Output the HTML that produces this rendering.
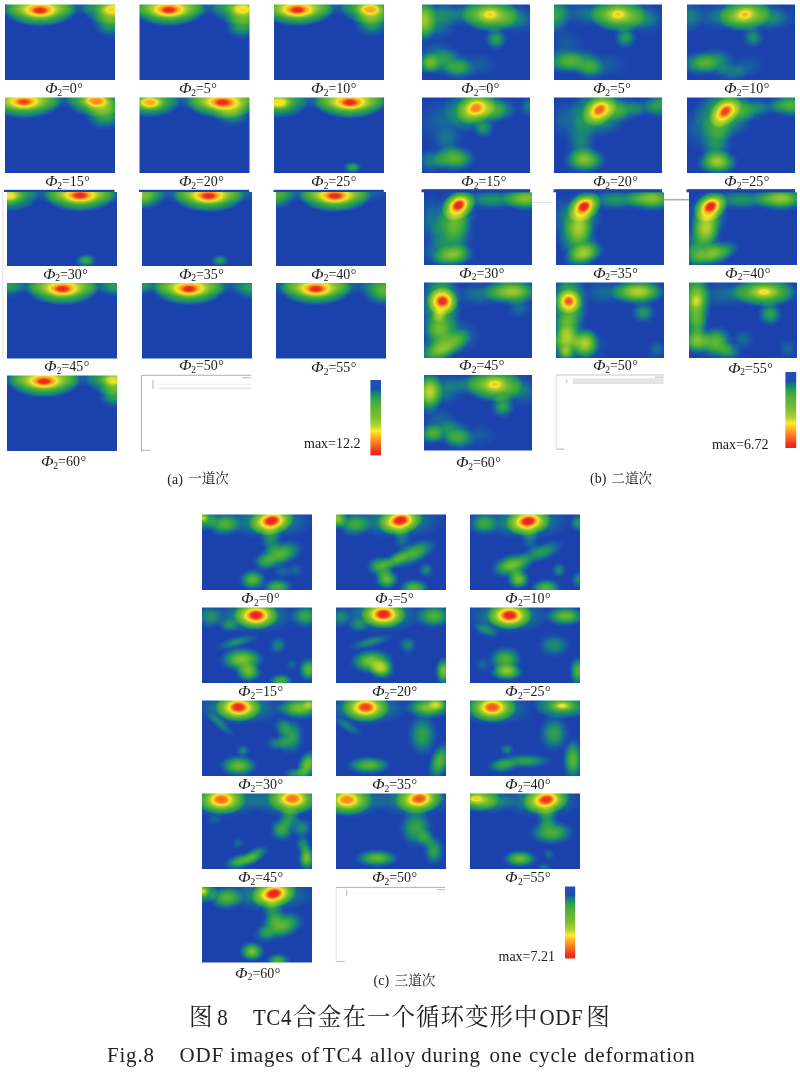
<!DOCTYPE html>
<html><head><meta charset="utf-8"><title>Fig.8 ODF images</title>
<style>
html,body{margin:0;padding:0;background:#fff;}
body{width:800px;height:1076px;position:relative;overflow:hidden;font-family:"Liberation Serif","Noto Serif CJK SC",serif;color:#1a1a1a;}
svg{position:absolute;left:0;top:0;}
.t{position:absolute;white-space:nowrap;line-height:1;}
.lab{font-size:14px;}
.dg{margin-left:0.5px;}
.capc{font-size:13.6px;font-family:"Noto Serif CJK SC",serif;color:#222;}
.lab{color:#1c1c1c}.lab i{font-style:italic;display:inline-block;transform:scaleX(1.18);transform-origin:0 50%;margin-right:2px;}
.lab sub{font-size:9.5px;vertical-align:baseline;position:relative;top:2.5px;}
.cap{font-size:14px;color:#222;}
.mx{font-size:14px;}
.cn{font-size:23.5px;font-family:"Noto Serif CJK SC","Liberation Serif",serif;color:#222;}
.en{font-size:21px;color:#222;letter-spacing:0.8px;}
.en2{font-size:21px;color:#222;transform:scaleY(1.08);transform-origin:0 83.75%;}
</style></head><body>

<svg width="800" height="1076" viewBox="0 0 800 1076">
<defs><radialGradient id="gp"><stop offset="0" stop-color="#fff" stop-opacity="1"/><stop offset="0.06" stop-color="#fff" stop-opacity="0.98"/><stop offset="0.12" stop-color="#fff" stop-opacity="0.93"/><stop offset="0.16" stop-color="#fff" stop-opacity="0.87"/><stop offset="0.2" stop-color="#fff" stop-opacity="0.79"/><stop offset="0.24" stop-color="#fff" stop-opacity="0.72"/><stop offset="0.3" stop-color="#fff" stop-opacity="0.66"/><stop offset="0.4" stop-color="#fff" stop-opacity="0.54"/><stop offset="0.5" stop-color="#fff" stop-opacity="0.44"/><stop offset="0.6" stop-color="#fff" stop-opacity="0.36"/><stop offset="0.7" stop-color="#fff" stop-opacity="0.3"/><stop offset="0.8" stop-color="#fff" stop-opacity="0.235"/><stop offset="0.9" stop-color="#fff" stop-opacity="0.13"/><stop offset="1" stop-color="#fff" stop-opacity="0"/></radialGradient><radialGradient id="gh"><stop offset="0" stop-color="#fff" stop-opacity="1"/><stop offset="0.1" stop-color="#fff" stop-opacity="0.99"/><stop offset="0.2" stop-color="#fff" stop-opacity="0.93"/><stop offset="0.26" stop-color="#fff" stop-opacity="0.84"/><stop offset="0.32" stop-color="#fff" stop-opacity="0.72"/><stop offset="0.38" stop-color="#fff" stop-opacity="0.64"/><stop offset="0.45" stop-color="#fff" stop-opacity="0.54"/><stop offset="0.55" stop-color="#fff" stop-opacity="0.43"/><stop offset="0.65" stop-color="#fff" stop-opacity="0.34"/><stop offset="0.75" stop-color="#fff" stop-opacity="0.27"/><stop offset="0.85" stop-color="#fff" stop-opacity="0.2"/><stop offset="0.93" stop-color="#fff" stop-opacity="0.1"/><stop offset="1" stop-color="#fff" stop-opacity="0"/></radialGradient><radialGradient id="gf"><stop offset="0" stop-color="#fff" stop-opacity="1"/><stop offset="0.1" stop-color="#fff" stop-opacity="0.985"/><stop offset="0.2" stop-color="#fff" stop-opacity="0.94"/><stop offset="0.3" stop-color="#fff" stop-opacity="0.87"/><stop offset="0.4" stop-color="#fff" stop-opacity="0.77"/><stop offset="0.5" stop-color="#fff" stop-opacity="0.65"/><stop offset="0.6" stop-color="#fff" stop-opacity="0.52"/><stop offset="0.7" stop-color="#fff" stop-opacity="0.39"/><stop offset="0.8" stop-color="#fff" stop-opacity="0.26"/><stop offset="0.9" stop-color="#fff" stop-opacity="0.13"/><stop offset="1" stop-color="#fff" stop-opacity="0"/></radialGradient>
<filter id="cm" color-interpolation-filters="sRGB" x="0" y="0" width="1" height="1" filterUnits="objectBoundingBox"><feGaussianBlur stdDeviation="0.4"/><feComponentTransfer><feFuncR type="table" tableValues="0.106 0.105 0.104 0.103 0.102 0.100 0.098 0.096 0.094 0.106 0.118 0.129 0.141 0.175 0.208 0.241 0.275 0.324 0.373 0.422 0.471 0.529 0.588 0.647 0.706 0.786 0.865 0.945 0.971 0.983 0.995 0.996 0.989 0.982 0.975 0.967 0.957 0.947 0.936 0.923 0.910"/><feFuncG type="table" tableValues="0.259 0.276 0.294 0.312 0.329 0.363 0.396 0.429 0.463 0.496 0.529 0.563 0.596 0.616 0.635 0.655 0.675 0.692 0.710 0.727 0.745 0.765 0.784 0.804 0.824 0.855 0.887 0.919 0.871 0.802 0.733 0.666 0.599 0.533 0.466 0.395 0.322 0.248 0.195 0.172 0.149"/><feFuncB type="table" tableValues="0.675 0.671 0.667 0.663 0.659 0.631 0.604 0.576 0.549 0.500 0.451 0.402 0.353 0.324 0.294 0.265 0.235 0.225 0.216 0.206 0.196 0.192 0.188 0.184 0.180 0.173 0.166 0.158 0.149 0.139 0.129 0.125 0.125 0.125 0.125 0.124 0.122 0.119 0.118 0.118 0.118"/></feComponentTransfer></filter>
<linearGradient id="cb" x1="0" y1="0" x2="0" y2="1"><stop offset="0" stop-color="rgb(34,80,186)"/><stop offset="0.12" stop-color="rgb(28,78,176)"/><stop offset="0.17" stop-color="rgb(16,128,120)"/><stop offset="0.24" stop-color="rgb(40,160,80)"/><stop offset="0.33" stop-color="rgb(80,176,56)"/><stop offset="0.5" stop-color="rgb(128,192,48)"/><stop offset="0.6" stop-color="rgb(176,208,48)"/><stop offset="0.675" stop-color="rgb(248,240,40)"/><stop offset="0.75" stop-color="rgb(255,176,32)"/><stop offset="0.85" stop-color="rgb(248,112,32)"/><stop offset="0.95" stop-color="rgb(240,48,32)"/><stop offset="1" stop-color="rgb(230,38,30)"/></linearGradient>
</defs>
<svg x="5" y="4.5" width="110" height="75.5" viewBox="0 0 110 75.5" overflow="hidden">
<g filter="url(#cm)"><rect x="-2" y="-2" width="114" height="79.5" fill="#000"/>
<ellipse cx="35" cy="6" rx="36.8" ry="16.6" fill="url(#gp)" opacity="1"/>
<ellipse cx="35" cy="2" rx="68.2" ry="11.4" fill="url(#gf)" opacity="0.26"/>
<ellipse cx="108" cy="4.5" rx="32.2" ry="16.1" fill="url(#gh)" opacity="0.7"/>
<ellipse cx="105" cy="18" rx="19.5" ry="16.2" fill="url(#gf)" opacity="0.34"/>
</g></svg>
<svg x="139.5" y="4.5" width="110" height="75.5" viewBox="0 0 110 75.5" overflow="hidden">
<g filter="url(#cm)"><rect x="-2" y="-2" width="114" height="79.5" fill="#000"/>
<ellipse cx="29.5" cy="5.5" rx="36.8" ry="16.6" fill="url(#gp)" opacity="1"/>
<ellipse cx="29.5" cy="2" rx="68.2" ry="11.4" fill="url(#gf)" opacity="0.26"/>
<ellipse cx="103" cy="4.5" rx="32.2" ry="16.1" fill="url(#gh)" opacity="0.7"/>
<ellipse cx="103" cy="20" rx="19.5" ry="16.2" fill="url(#gf)" opacity="0.36"/>
</g></svg>
<svg x="274" y="4.5" width="110" height="75.5" viewBox="0 0 110 75.5" overflow="hidden">
<g filter="url(#cm)"><rect x="-2" y="-2" width="114" height="79.5" fill="#000"/>
<ellipse cx="23.5" cy="5.5" rx="36.8" ry="16.6" fill="url(#gp)" opacity="1"/>
<ellipse cx="23.5" cy="2" rx="68.2" ry="11.4" fill="url(#gf)" opacity="0.26"/>
<ellipse cx="96" cy="4.5" rx="30.6" ry="15.3" fill="url(#gh)" opacity="0.76"/>
<ellipse cx="98" cy="17" rx="19.5" ry="16.2" fill="url(#gf)" opacity="0.36"/>
</g></svg>
<svg x="5" y="97.5" width="110" height="75.5" viewBox="0 0 110 75.5" overflow="hidden">
<g filter="url(#cm)"><rect x="-2" y="-2" width="114" height="79.5" fill="#000"/>
<ellipse cx="19" cy="4.5" rx="37.8" ry="17" fill="url(#gp)" opacity="0.92"/>
<ellipse cx="19" cy="2" rx="68.2" ry="11.4" fill="url(#gf)" opacity="0.26"/>
<ellipse cx="91" cy="3.5" rx="30.6" ry="15.9" fill="url(#gh)" opacity="0.82"/>
<ellipse cx="100" cy="17" rx="21.1" ry="16.2" fill="url(#gf)" opacity="0.38"/>
</g></svg>
<svg x="139.5" y="97.5" width="110" height="75.5" viewBox="0 0 110 75.5" overflow="hidden">
<g filter="url(#cm)"><rect x="-2" y="-2" width="114" height="79.5" fill="#000"/>
<ellipse cx="10.5" cy="5" rx="30.1" ry="15.1" fill="url(#gh)" opacity="0.78"/>
<ellipse cx="83" cy="5" rx="36.8" ry="16.6" fill="url(#gp)" opacity="1"/>
<ellipse cx="83" cy="2" rx="68.2" ry="11.4" fill="url(#gf)" opacity="0.26"/>
<ellipse cx="93" cy="16" rx="19.5" ry="14.6" fill="url(#gf)" opacity="0.3"/>
</g></svg>
<svg x="274" y="97.5" width="110" height="75.5" viewBox="0 0 110 75.5" overflow="hidden">
<g filter="url(#cm)"><rect x="-2" y="-2" width="114" height="79.5" fill="#000"/>
<ellipse cx="5" cy="5" rx="29.5" ry="16.1" fill="url(#gh)" opacity="0.7"/>
<ellipse cx="76" cy="5" rx="36.8" ry="16.6" fill="url(#gp)" opacity="1"/>
<ellipse cx="76" cy="2" rx="68.2" ry="11.4" fill="url(#gf)" opacity="0.26"/>
<ellipse cx="78.5" cy="70" rx="9.8" ry="6.5" fill="url(#gf)" opacity="0.36"/>
</g></svg>
<svg x="7" y="190.5" width="110" height="75.5" viewBox="0 0 110 75.5" overflow="hidden">
<g filter="url(#cm)"><rect x="-2" y="-2" width="114" height="79.5" fill="#000"/>
<ellipse cx="2" cy="5" rx="30.1" ry="16.4" fill="url(#gh)" opacity="0.68"/>
<ellipse cx="73" cy="5" rx="36.8" ry="16.6" fill="url(#gp)" opacity="1"/>
<ellipse cx="73" cy="2" rx="68.2" ry="11.4" fill="url(#gf)" opacity="0.26"/>
<ellipse cx="79" cy="70" rx="11.4" ry="7.3" fill="url(#gf)" opacity="0.38"/>
</g></svg>
<svg x="142" y="190.5" width="110" height="75.5" viewBox="0 0 110 75.5" overflow="hidden">
<g filter="url(#cm)"><rect x="-2" y="-2" width="114" height="79.5" fill="#000"/>
<ellipse cx="0" cy="5" rx="25.2" ry="14.8" fill="url(#gf)" opacity="0.52"/>
<ellipse cx="66.7" cy="5.5" rx="36.8" ry="16.6" fill="url(#gp)" opacity="1"/>
<ellipse cx="66.7" cy="2" rx="68.2" ry="11.4" fill="url(#gf)" opacity="0.26"/>
<ellipse cx="78" cy="70" rx="9.8" ry="6.5" fill="url(#gf)" opacity="0.32"/>
</g></svg>
<svg x="276" y="190.5" width="110" height="75.5" viewBox="0 0 110 75.5" overflow="hidden">
<g filter="url(#cm)"><rect x="-2" y="-2" width="114" height="79.5" fill="#000"/>
<ellipse cx="0" cy="5" rx="21.1" ry="14.6" fill="url(#gf)" opacity="0.4"/>
<ellipse cx="59" cy="5.5" rx="36.8" ry="16.6" fill="url(#gp)" opacity="1"/>
<ellipse cx="59" cy="2" rx="68.2" ry="11.4" fill="url(#gf)" opacity="0.26"/>
</g></svg>
<svg x="7" y="283" width="110" height="75.5" viewBox="0 0 110 75.5" overflow="hidden">
<g filter="url(#cm)"><rect x="-2" y="-2" width="114" height="79.5" fill="#000"/>
<ellipse cx="55.5" cy="6" rx="36.8" ry="16.6" fill="url(#gp)" opacity="1"/>
<ellipse cx="55.5" cy="2" rx="68.2" ry="11.4" fill="url(#gf)" opacity="0.26"/>
<ellipse cx="0" cy="4" rx="19.5" ry="11.4" fill="url(#gf)" opacity="0.28"/>
<ellipse cx="110" cy="4" rx="19.5" ry="11.4" fill="url(#gf)" opacity="0.28"/>
</g></svg>
<svg x="142" y="283" width="110" height="75.5" viewBox="0 0 110 75.5" overflow="hidden">
<g filter="url(#cm)"><rect x="-2" y="-2" width="114" height="79.5" fill="#000"/>
<ellipse cx="47" cy="6" rx="36.8" ry="16.6" fill="url(#gp)" opacity="1"/>
<ellipse cx="47" cy="2" rx="68.2" ry="11.4" fill="url(#gf)" opacity="0.26"/>
<ellipse cx="110" cy="5" rx="21.1" ry="13" fill="url(#gf)" opacity="0.32"/>
<ellipse cx="0" cy="3" rx="13" ry="9.8" fill="url(#gf)" opacity="0.22"/>
</g></svg>
<svg x="276" y="283" width="110" height="75.5" viewBox="0 0 110 75.5" overflow="hidden">
<g filter="url(#cm)"><rect x="-2" y="-2" width="114" height="79.5" fill="#000"/>
<ellipse cx="40" cy="6" rx="36.8" ry="16.6" fill="url(#gp)" opacity="1"/>
<ellipse cx="40" cy="2" rx="68.2" ry="11.4" fill="url(#gf)" opacity="0.26"/>
<ellipse cx="110" cy="7" rx="26.9" ry="17.4" fill="url(#gf)" opacity="0.46"/>
</g></svg>
<svg x="7" y="375.5" width="110" height="75.5" viewBox="0 0 110 75.5" overflow="hidden">
<g filter="url(#cm)"><rect x="-2" y="-2" width="114" height="79.5" fill="#000"/>
<ellipse cx="37" cy="6" rx="36.8" ry="16.6" fill="url(#gp)" opacity="1"/>
<ellipse cx="37" cy="2" rx="68.2" ry="11.4" fill="url(#gf)" opacity="0.26"/>
<ellipse cx="106" cy="4.5" rx="27.9" ry="15.3" fill="url(#gh)" opacity="0.66"/>
<ellipse cx="107" cy="19" rx="16.2" ry="14.6" fill="url(#gf)" opacity="0.36"/>
</g></svg>
<svg x="422" y="4.5" width="108" height="75.5" viewBox="0 0 108 75.5" overflow="hidden">
<g filter="url(#cm)"><rect x="-2" y="-2" width="112" height="79.5" fill="#000"/>
<ellipse cx="68" cy="10" rx="28.7" ry="18.3" fill="url(#gp)" opacity="0.64"/>
<ellipse cx="71" cy="11" rx="40.6" ry="17.1" fill="url(#gf)" opacity="0.26"/>
<ellipse cx="1" cy="15" rx="14.2" ry="25.3" fill="url(#gf)" opacity="0.46"/>
<ellipse cx="12" cy="16" rx="26" ry="21.1" fill="url(#gf)" opacity="0.25"/>
<ellipse cx="35" cy="9" rx="29.2" ry="13" fill="url(#gf)" opacity="0.17"/>
<ellipse cx="74" cy="34.5" rx="12.2" ry="12.2" fill="url(#gf)" opacity="0.33"/>
<ellipse cx="6.5" cy="59" rx="13" ry="11.4" fill="url(#gf)" opacity="0.4"/>
<ellipse cx="24" cy="58" rx="24.4" ry="14.6" fill="url(#gf)" opacity="0.3"/>
<ellipse cx="38" cy="65" rx="16.2" ry="11.4" fill="url(#gf)" opacity="0.27"/>
<ellipse cx="15" cy="48" rx="22.8" ry="13" fill="url(#gf)" opacity="0.17"/>
<ellipse cx="95" cy="16" rx="22.8" ry="14.6" fill="url(#gf)" opacity="0.17"/>
<ellipse cx="55" cy="60" rx="22.8" ry="13" fill="url(#gf)" opacity="0.14"/>
</g></svg>
<svg x="554" y="4.5" width="108" height="75.5" viewBox="0 0 108 75.5" overflow="hidden">
<g filter="url(#cm)"><rect x="-2" y="-2" width="112" height="79.5" fill="#000"/>
<ellipse cx="64" cy="10" rx="28.3" ry="18.1" fill="url(#gp)" opacity="0.65"/>
<ellipse cx="67" cy="11" rx="40.6" ry="17.1" fill="url(#gf)" opacity="0.26"/>
<ellipse cx="0.5" cy="10" rx="17.9" ry="21.1" fill="url(#gf)" opacity="0.36"/>
<ellipse cx="30" cy="9" rx="27.6" ry="13" fill="url(#gf)" opacity="0.17"/>
<ellipse cx="71.5" cy="33" rx="12.2" ry="12.2" fill="url(#gf)" opacity="0.32"/>
<ellipse cx="10" cy="57" rx="21.1" ry="13" fill="url(#gf)" opacity="0.36"/>
<ellipse cx="28" cy="57" rx="21.1" ry="14.6" fill="url(#gf)" opacity="0.3"/>
<ellipse cx="37" cy="65" rx="16.2" ry="11.4" fill="url(#gf)" opacity="0.25"/>
<ellipse cx="92" cy="16" rx="22.8" ry="14.6" fill="url(#gf)" opacity="0.17"/>
<ellipse cx="52" cy="60" rx="22.8" ry="13" fill="url(#gf)" opacity="0.14"/>
<ellipse cx="12" cy="40" rx="19.5" ry="16.2" fill="url(#gf)" opacity="0.13"/>
</g></svg>
<svg x="687" y="4.5" width="108" height="75.5" viewBox="0 0 108 75.5" overflow="hidden">
<g filter="url(#cm)"><rect x="-2" y="-2" width="112" height="79.5" fill="#000"/>
<ellipse cx="58" cy="10" rx="26.9" ry="17.2" fill="url(#gp)" opacity="0.69" transform="rotate(-10 58 10)"/>
<ellipse cx="61" cy="11" rx="40.6" ry="17.1" fill="url(#gf)" opacity="0.26"/>
<ellipse cx="1" cy="12" rx="16.2" ry="17.9" fill="url(#gf)" opacity="0.22"/>
<ellipse cx="28" cy="12" rx="27.6" ry="14.6" fill="url(#gf)" opacity="0.15"/>
<ellipse cx="66" cy="33" rx="11.4" ry="11.4" fill="url(#gf)" opacity="0.28"/>
<ellipse cx="12" cy="59" rx="19.5" ry="13" fill="url(#gf)" opacity="0.34"/>
<ellipse cx="28.5" cy="57" rx="21.1" ry="14.6" fill="url(#gf)" opacity="0.31"/>
<ellipse cx="45" cy="68" rx="17.9" ry="9.8" fill="url(#gf)" opacity="0.2"/>
<ellipse cx="88" cy="14" rx="22.8" ry="13" fill="url(#gf)" opacity="0.17"/>
<ellipse cx="60" cy="62" rx="19.5" ry="11.4" fill="url(#gf)" opacity="0.14"/>
</g></svg>
<svg x="422" y="97.5" width="108" height="75.5" viewBox="0 0 108 75.5" overflow="hidden">
<g filter="url(#cm)"><rect x="-2" y="-2" width="112" height="79.5" fill="#000"/>
<ellipse cx="53.7" cy="10.5" rx="21.1" ry="15.5" fill="url(#gh)" opacity="0.74" transform="rotate(-25 53.7 10.5)"/>
<ellipse cx="75" cy="12" rx="22.8" ry="13" fill="url(#gf)" opacity="0.32"/>
<ellipse cx="52" cy="12" rx="32.5" ry="24.4" fill="url(#gf)" opacity="0.36"/>
<ellipse cx="32.7" cy="61" rx="22.4" ry="13.6" fill="url(#gf)" opacity="0.45"/>
<ellipse cx="10" cy="63" rx="17.9" ry="13" fill="url(#gf)" opacity="0.24"/>
<ellipse cx="62" cy="32" rx="11.4" ry="9.8" fill="url(#gf)" opacity="0.25"/>
<ellipse cx="22" cy="24" rx="29.2" ry="24.4" fill="url(#gf)" opacity="0.16"/>
<ellipse cx="107" cy="9" rx="11.4" ry="11.4" fill="url(#gf)" opacity="0.22"/>
<ellipse cx="25" cy="45" rx="16.2" ry="16.2" fill="url(#gf)" opacity="0.16"/>
</g></svg>
<svg x="554" y="97.5" width="108" height="75.5" viewBox="0 0 108 75.5" overflow="hidden">
<g filter="url(#cm)"><rect x="-2" y="-2" width="112" height="79.5" fill="#000"/>
<ellipse cx="45.5" cy="12.3" rx="20.2" ry="14.1" fill="url(#gh)" opacity="0.8" transform="rotate(-40 45.5 12.3)"/>
<ellipse cx="44" cy="15" rx="30.9" ry="26" fill="url(#gf)" opacity="0.4"/>
<ellipse cx="68" cy="12" rx="22.8" ry="13" fill="url(#gf)" opacity="0.3"/>
<ellipse cx="31" cy="62.7" rx="22.7" ry="13.6" fill="url(#gf)" opacity="0.5"/>
<ellipse cx="105.6" cy="7.5" rx="16.2" ry="14.6" fill="url(#gf)" opacity="0.34"/>
<ellipse cx="27" cy="42" rx="16.2" ry="24.4" fill="url(#gf)" opacity="0.25"/>
<ellipse cx="12" cy="22" rx="19.5" ry="21.1" fill="url(#gf)" opacity="0.16"/>
<ellipse cx="88" cy="10" rx="16.2" ry="9.8" fill="url(#gf)" opacity="0.18"/>
</g></svg>
<svg x="687" y="97.5" width="108" height="75.5" viewBox="0 0 108 75.5" overflow="hidden">
<g filter="url(#cm)"><rect x="-2" y="-2" width="112" height="79.5" fill="#000"/>
<ellipse cx="38.3" cy="14" rx="19.3" ry="12.8" fill="url(#gh)" opacity="0.88" transform="rotate(-45 38.3 14)"/>
<ellipse cx="37" cy="16" rx="30.9" ry="27.6" fill="url(#gf)" opacity="0.42"/>
<ellipse cx="60" cy="12" rx="22.8" ry="13" fill="url(#gf)" opacity="0.28"/>
<ellipse cx="30.5" cy="65" rx="22" ry="13.2" fill="url(#gf)" opacity="0.53"/>
<ellipse cx="28.6" cy="42" rx="17.9" ry="27.6" fill="url(#gf)" opacity="0.32"/>
<ellipse cx="104" cy="7.5" rx="22.8" ry="13" fill="url(#gf)" opacity="0.42"/>
<ellipse cx="80" cy="9" rx="19.5" ry="9.8" fill="url(#gf)" opacity="0.15"/>
<ellipse cx="10" cy="30" rx="14.6" ry="22.8" fill="url(#gf)" opacity="0.15"/>
</g></svg>
<svg x="424" y="189.5" width="108" height="75.5" viewBox="0 0 108 75.5" overflow="hidden">
<g filter="url(#cm)"><rect x="-2" y="-2" width="112" height="79.5" fill="#000"/>
<ellipse cx="34.6" cy="15.75" rx="18.9" ry="14" fill="url(#gh)" opacity="1" transform="rotate(-35 34.6 15.75)"/>
<ellipse cx="32.6" cy="23.75" rx="21.1" ry="24.4" fill="url(#gf)" opacity="0.36"/>
<ellipse cx="28" cy="44" rx="22.8" ry="24.4" fill="url(#gf)" opacity="0.37"/>
<ellipse cx="29.7" cy="66" rx="22.7" ry="12.1" fill="url(#gf)" opacity="0.5" transform="rotate(-10 29.7 66)"/>
<ellipse cx="102.5" cy="9" rx="25.2" ry="13.3" fill="url(#gf)" opacity="0.52"/>
<ellipse cx="68" cy="10" rx="32.5" ry="11.4" fill="url(#gf)" opacity="0.29"/>
<ellipse cx="8" cy="30" rx="14.6" ry="26" fill="url(#gf)" opacity="0.2"/>
<ellipse cx="12" cy="62" rx="16.2" ry="16.2" fill="url(#gf)" opacity="0.2"/>
</g></svg>
<svg x="556" y="189.5" width="108" height="75.5" viewBox="0 0 108 75.5" overflow="hidden">
<g filter="url(#cm)"><rect x="-2" y="-2" width="112" height="79.5" fill="#000"/>
<ellipse cx="28" cy="17.2" rx="18.9" ry="14" fill="url(#gh)" opacity="1" transform="rotate(-35 28 17.2)"/>
<ellipse cx="26" cy="25.2" rx="21.1" ry="24.4" fill="url(#gf)" opacity="0.36"/>
<ellipse cx="21.5" cy="37" rx="16.2" ry="17.9" fill="url(#gf)" opacity="0.36"/>
<ellipse cx="22" cy="51" rx="21.1" ry="21.1" fill="url(#gf)" opacity="0.37"/>
<ellipse cx="28" cy="65" rx="22.7" ry="12.1" fill="url(#gf)" opacity="0.5" transform="rotate(-20 28 65)"/>
<ellipse cx="96" cy="9" rx="28.2" ry="13.3" fill="url(#gf)" opacity="0.52"/>
<ellipse cx="60" cy="10" rx="32.5" ry="11.4" fill="url(#gf)" opacity="0.29"/>
<ellipse cx="6" cy="30" rx="11.4" ry="26" fill="url(#gf)" opacity="0.18"/>
</g></svg>
<svg x="689" y="189.5" width="108" height="75.5" viewBox="0 0 108 75.5" overflow="hidden">
<g filter="url(#cm)"><rect x="-2" y="-2" width="112" height="79.5" fill="#000"/>
<ellipse cx="21.6" cy="17.2" rx="18.9" ry="14" fill="url(#gh)" opacity="1" transform="rotate(-35 21.6 17.2)"/>
<ellipse cx="19.6" cy="25.2" rx="21.1" ry="24.4" fill="url(#gf)" opacity="0.36"/>
<ellipse cx="16.7" cy="37" rx="16.2" ry="17.9" fill="url(#gf)" opacity="0.4"/>
<ellipse cx="14" cy="52" rx="19.5" ry="21.1" fill="url(#gf)" opacity="0.37"/>
<ellipse cx="26.5" cy="64.3" rx="26.6" ry="11.7" fill="url(#gf)" opacity="0.47" transform="rotate(-20 26.5 64.3)"/>
<ellipse cx="91.5" cy="9" rx="28.9" ry="13" fill="url(#gf)" opacity="0.55"/>
<ellipse cx="52" cy="10" rx="32.5" ry="11.4" fill="url(#gf)" opacity="0.29"/>
<ellipse cx="5" cy="66" rx="13" ry="13" fill="url(#gf)" opacity="0.3"/>
</g></svg>
<svg x="424" y="282.5" width="108" height="75.5" viewBox="0 0 108 75.5" overflow="hidden">
<g filter="url(#cm)"><rect x="-2" y="-2" width="112" height="79.5" fill="#000"/>
<ellipse cx="18.5" cy="18.75" rx="16.2" ry="14.3" fill="url(#gh)" opacity="0.95"/>
<ellipse cx="15" cy="33" rx="8.1" ry="8.1" fill="url(#gf)" opacity="0.3"/>
<ellipse cx="17" cy="22" rx="22.1" ry="39.6" fill="url(#gf)" opacity="0.46"/>
<ellipse cx="23" cy="64" rx="29.2" ry="12.2" fill="url(#gf)" opacity="0.38" transform="rotate(-30 23 64)"/>
<ellipse cx="10" cy="68" rx="21.1" ry="13" fill="url(#gf)" opacity="0.28"/>
<ellipse cx="28" cy="54" rx="29.2" ry="19.5" fill="url(#gf)" opacity="0.26"/>
<ellipse cx="87.5" cy="9" rx="30.1" ry="14.3" fill="url(#gf)" opacity="0.56"/>
<ellipse cx="55" cy="12" rx="26" ry="13" fill="url(#gf)" opacity="0.2"/>
<ellipse cx="95" cy="25.5" rx="13" ry="11.4" fill="url(#gf)" opacity="0.17"/>
<ellipse cx="12" cy="48" rx="16.2" ry="16.2" fill="url(#gf)" opacity="0.25"/>
</g></svg>
<svg x="556" y="282.5" width="108" height="75.5" viewBox="0 0 108 75.5" overflow="hidden">
<g filter="url(#cm)"><rect x="-2" y="-2" width="112" height="79.5" fill="#000"/>
<ellipse cx="12.75" cy="18.75" rx="14" ry="12.6" fill="url(#gh)" opacity="0.82"/>
<ellipse cx="13" cy="22" rx="20.1" ry="37.1" fill="url(#gf)" opacity="0.48"/>
<ellipse cx="9.5" cy="57" rx="15.8" ry="14.2" fill="url(#gf)" opacity="0.46"/>
<ellipse cx="29.7" cy="60.7" rx="14.2" ry="15.8" fill="url(#gf)" opacity="0.46"/>
<ellipse cx="9.5" cy="70.5" rx="9.8" ry="8.1" fill="url(#gf)" opacity="0.4"/>
<ellipse cx="20" cy="62" rx="32.5" ry="19.5" fill="url(#gf)" opacity="0.28"/>
<ellipse cx="82" cy="9.3" rx="29.2" ry="13.9" fill="url(#gf)" opacity="0.6"/>
<ellipse cx="87.5" cy="30" rx="13" ry="11.4" fill="url(#gf)" opacity="0.3"/>
<ellipse cx="101" cy="66.7" rx="9.8" ry="9.8" fill="url(#gf)" opacity="0.18"/>
<ellipse cx="48" cy="10" rx="26" ry="13" fill="url(#gf)" opacity="0.17"/>
<ellipse cx="10" cy="44" rx="14.6" ry="13" fill="url(#gf)" opacity="0.28"/>
</g></svg>
<svg x="689" y="282.5" width="108" height="75.5" viewBox="0 0 108 75.5" overflow="hidden">
<g filter="url(#cm)"><rect x="-2" y="-2" width="112" height="79.5" fill="#000"/>
<ellipse cx="7.2" cy="18.75" rx="15.8" ry="33" fill="url(#gf)" opacity="0.56"/>
<ellipse cx="7.2" cy="18.75" rx="6.5" ry="6.5" fill="url(#gf)" opacity="0.2"/>
<ellipse cx="75" cy="9.3" rx="32.1" ry="15.2" fill="url(#gp)" opacity="0.6"/>
<ellipse cx="76" cy="10" rx="40.6" ry="15.4" fill="url(#gf)" opacity="0.27"/>
<ellipse cx="81" cy="31.5" rx="13" ry="13" fill="url(#gf)" opacity="0.34"/>
<ellipse cx="6.75" cy="57.75" rx="15.8" ry="14.2" fill="url(#gf)" opacity="0.46"/>
<ellipse cx="29" cy="60" rx="16.2" ry="17.9" fill="url(#gf)" opacity="0.38"/>
<ellipse cx="40.5" cy="69" rx="13" ry="9.8" fill="url(#gf)" opacity="0.28"/>
<ellipse cx="54" cy="57" rx="13" ry="11.4" fill="url(#gf)" opacity="0.17"/>
<ellipse cx="99" cy="66" rx="9.8" ry="9.8" fill="url(#gf)" opacity="0.16"/>
<ellipse cx="35" cy="12" rx="29.2" ry="14.6" fill="url(#gf)" opacity="0.17"/>
<ellipse cx="8" cy="42" rx="13" ry="13" fill="url(#gf)" opacity="0.25"/>
<ellipse cx="18" cy="60" rx="19.5" ry="16.2" fill="url(#gf)" opacity="0.22"/>
</g></svg>
<svg x="424" y="375" width="108" height="75.5" viewBox="0 0 108 75.5" overflow="hidden">
<g filter="url(#cm)"><rect x="-2" y="-2" width="112" height="79.5" fill="#000"/>
<ellipse cx="5" cy="17.5" rx="14.4" ry="23.1" fill="url(#gf)" opacity="0.55"/>
<ellipse cx="70.75" cy="9.5" rx="28.3" ry="18.1" fill="url(#gp)" opacity="0.65"/>
<ellipse cx="73" cy="10.5" rx="40.6" ry="17.1" fill="url(#gf)" opacity="0.26"/>
<ellipse cx="78.75" cy="31" rx="13" ry="13" fill="url(#gf)" opacity="0.35"/>
<ellipse cx="7.5" cy="58.75" rx="13" ry="11.4" fill="url(#gf)" opacity="0.4"/>
<ellipse cx="28" cy="57.5" rx="21.1" ry="14.6" fill="url(#gf)" opacity="0.3"/>
<ellipse cx="36" cy="65" rx="16.2" ry="11.4" fill="url(#gf)" opacity="0.25"/>
<ellipse cx="18" cy="15" rx="24.4" ry="17.9" fill="url(#gf)" opacity="0.22"/>
<ellipse cx="42" cy="9" rx="24.4" ry="11.4" fill="url(#gf)" opacity="0.16"/>
<ellipse cx="98" cy="18" rx="19.5" ry="14.6" fill="url(#gf)" opacity="0.16"/>
<ellipse cx="15" cy="45" rx="19.5" ry="14.6" fill="url(#gf)" opacity="0.15"/>
<ellipse cx="55" cy="60" rx="19.5" ry="13" fill="url(#gf)" opacity="0.13"/>
</g></svg>
<svg x="202" y="514.5" width="110" height="75.5" viewBox="0 0 110 75.5" overflow="hidden">
<g filter="url(#cm)"><rect x="-2" y="-2" width="114" height="79.5" fill="#000"/>
<ellipse cx="69.5" cy="6.3" rx="23.1" ry="14.6" fill="url(#gh)" opacity="1" transform="rotate(-12 69.5 6.3)"/>
<ellipse cx="65.5" cy="7.3" rx="48.8" ry="17.9" fill="url(#gf)" opacity="0.3"/>
<ellipse cx="1.2" cy="3.75" rx="14.8" ry="13.1" fill="url(#gp)" opacity="0.62"/>
<ellipse cx="21.5" cy="9.75" rx="17.9" ry="13" fill="url(#gf)" opacity="0.4"/>
<ellipse cx="77.7" cy="39.75" rx="26" ry="13" fill="url(#gf)" opacity="0.44" transform="rotate(-20 77.7 39.75)"/>
<ellipse cx="69" cy="25" rx="11.4" ry="14.6" fill="url(#gf)" opacity="0.27"/>
<ellipse cx="50.7" cy="65.25" rx="14.6" ry="11.4" fill="url(#gf)" opacity="0.44"/>
<ellipse cx="75.5" cy="72.75" rx="16.2" ry="9.8" fill="url(#gf)" opacity="0.4"/>
<ellipse cx="62" cy="48" rx="13" ry="9.8" fill="url(#gf)" opacity="0.22"/>
<ellipse cx="80" cy="57" rx="9.8" ry="8.1" fill="url(#gf)" opacity="0.16"/>
<ellipse cx="93.5" cy="55.5" rx="9.8" ry="8.1" fill="url(#gf)" opacity="0.16"/>
</g></svg>
<svg x="336" y="514.5" width="110" height="75.5" viewBox="0 0 110 75.5" overflow="hidden">
<g filter="url(#cm)"><rect x="-2" y="-2" width="114" height="79.5" fill="#000"/>
<ellipse cx="64.3" cy="5.9" rx="23.1" ry="14.6" fill="url(#gh)" opacity="1" transform="rotate(-12 64.3 5.9)"/>
<ellipse cx="60.3" cy="6.9" rx="48.8" ry="17.9" fill="url(#gf)" opacity="0.3"/>
<ellipse cx="0.6" cy="3.5" rx="11.7" ry="11.7" fill="url(#gf)" opacity="0.54"/>
<ellipse cx="18" cy="10" rx="17.9" ry="13" fill="url(#gf)" opacity="0.36"/>
<ellipse cx="76.7" cy="39" rx="27.6" ry="11.4" fill="url(#gf)" opacity="0.42" transform="rotate(-25 76.7 39)"/>
<ellipse cx="44" cy="52" rx="14.6" ry="11.4" fill="url(#gf)" opacity="0.4"/>
<ellipse cx="58" cy="46" rx="16.2" ry="8.1" fill="url(#gf)" opacity="0.3" transform="rotate(-25 58 46)"/>
<ellipse cx="50.7" cy="64.7" rx="12.5" ry="10.9" fill="url(#gf)" opacity="0.47"/>
<ellipse cx="78" cy="73.5" rx="16.2" ry="9.8" fill="url(#gf)" opacity="0.44"/>
<ellipse cx="90" cy="55.5" rx="8.1" ry="8.1" fill="url(#gf)" opacity="0.26"/>
<ellipse cx="66" cy="24" rx="9.8" ry="13" fill="url(#gf)" opacity="0.2"/>
</g></svg>
<svg x="470" y="514.5" width="110" height="75.5" viewBox="0 0 110 75.5" overflow="hidden">
<g filter="url(#cm)"><rect x="-2" y="-2" width="114" height="79.5" fill="#000"/>
<ellipse cx="58.2" cy="6.8" rx="23.1" ry="14.6" fill="url(#gh)" opacity="1" transform="rotate(-8 58.2 6.8)"/>
<ellipse cx="54.2" cy="7.8" rx="48.8" ry="17.9" fill="url(#gf)" opacity="0.3"/>
<ellipse cx="12.7" cy="9" rx="16.2" ry="13" fill="url(#gf)" opacity="0.34"/>
<ellipse cx="42" cy="50.7" rx="22.7" ry="12.1" fill="url(#gf)" opacity="0.5" transform="rotate(-15 42 50.7)"/>
<ellipse cx="71" cy="37.7" rx="26" ry="9.8" fill="url(#gf)" opacity="0.32" transform="rotate(-20 71 37.7)"/>
<ellipse cx="48.4" cy="64.7" rx="12.1" ry="10.6" fill="url(#gf)" opacity="0.5"/>
<ellipse cx="76" cy="73.5" rx="16.2" ry="9.8" fill="url(#gf)" opacity="0.44"/>
<ellipse cx="89" cy="55.6" rx="8.1" ry="8.1" fill="url(#gf)" opacity="0.26"/>
<ellipse cx="108.5" cy="8.5" rx="9.8" ry="9.8" fill="url(#gf)" opacity="0.3"/>
<ellipse cx="108.5" cy="65" rx="8.1" ry="9.8" fill="url(#gf)" opacity="0.26"/>
<ellipse cx="60" cy="24" rx="9.8" ry="13" fill="url(#gf)" opacity="0.2"/>
</g></svg>
<svg x="202" y="607.5" width="110" height="75.5" viewBox="0 0 110 75.5" overflow="hidden">
<g filter="url(#cm)"><rect x="-2" y="-2" width="114" height="79.5" fill="#000"/>
<ellipse cx="54" cy="7.8" rx="23.1" ry="14.6" fill="url(#gh)" opacity="1"/>
<ellipse cx="52" cy="8.8" rx="45.5" ry="17.9" fill="url(#gf)" opacity="0.3"/>
<ellipse cx="7.6" cy="9" rx="14.6" ry="13" fill="url(#gf)" opacity="0.28"/>
<ellipse cx="103.5" cy="8.5" rx="16.2" ry="13" fill="url(#gf)" opacity="0.36"/>
<ellipse cx="40" cy="52" rx="23.7" ry="13.3" fill="url(#gf)" opacity="0.52"/>
<ellipse cx="46.6" cy="65" rx="14.1" ry="10.2" fill="url(#gf)" opacity="0.47"/>
<ellipse cx="35" cy="34.5" rx="24.4" ry="6.5" fill="url(#gf)" opacity="0.27" transform="rotate(-15 35 34.5)"/>
<ellipse cx="76" cy="37.7" rx="9.8" ry="9.8" fill="url(#gf)" opacity="0.25"/>
<ellipse cx="106.8" cy="62" rx="11.4" ry="13" fill="url(#gf)" opacity="0.44"/>
<ellipse cx="79" cy="73.5" rx="13" ry="8.1" fill="url(#gf)" opacity="0.4"/>
<ellipse cx="27" cy="18" rx="11.4" ry="8.1" fill="url(#gf)" opacity="0.22"/>
<ellipse cx="90" cy="57" rx="6.5" ry="6.5" fill="url(#gf)" opacity="0.16"/>
</g></svg>
<svg x="336" y="607.5" width="110" height="75.5" viewBox="0 0 110 75.5" overflow="hidden">
<g filter="url(#cm)"><rect x="-2" y="-2" width="114" height="79.5" fill="#000"/>
<ellipse cx="47.5" cy="6.8" rx="23.1" ry="14.6" fill="url(#gh)" opacity="1"/>
<ellipse cx="45.5" cy="7.8" rx="45.5" ry="17.9" fill="url(#gf)" opacity="0.3"/>
<ellipse cx="97.8" cy="8.5" rx="19.5" ry="13" fill="url(#gf)" opacity="0.42"/>
<ellipse cx="3.5" cy="10" rx="11.4" ry="11.4" fill="url(#gf)" opacity="0.25"/>
<ellipse cx="36" cy="54" rx="23.7" ry="13.3" fill="url(#gf)" opacity="0.52"/>
<ellipse cx="45.8" cy="62" rx="13.6" ry="10.6" fill="url(#gf)" opacity="0.5"/>
<ellipse cx="34.5" cy="34.5" rx="24.4" ry="6.5" fill="url(#gf)" opacity="0.26" transform="rotate(-15 34.5 34.5)"/>
<ellipse cx="71.8" cy="37.7" rx="9.8" ry="9.8" fill="url(#gf)" opacity="0.25"/>
<ellipse cx="107.6" cy="63.7" rx="9.1" ry="15.1" fill="url(#gf)" opacity="0.5"/>
<ellipse cx="22" cy="18" rx="11.4" ry="8.1" fill="url(#gf)" opacity="0.2"/>
</g></svg>
<svg x="470" y="607.5" width="110" height="75.5" viewBox="0 0 110 75.5" overflow="hidden">
<g filter="url(#cm)"><rect x="-2" y="-2" width="114" height="79.5" fill="#000"/>
<ellipse cx="39.6" cy="7.8" rx="23.1" ry="14.6" fill="url(#gh)" opacity="1"/>
<ellipse cx="37.6" cy="8.8" rx="45.5" ry="17.9" fill="url(#gf)" opacity="0.3"/>
<ellipse cx="95.5" cy="8.5" rx="21.9" ry="10.9" fill="url(#gf)" opacity="0.47"/>
<ellipse cx="35.4" cy="52" rx="17.9" ry="14.6" fill="url(#gf)" opacity="0.42"/>
<ellipse cx="37" cy="64.7" rx="18.1" ry="9.1" fill="url(#gf)" opacity="0.5"/>
<ellipse cx="16" cy="23" rx="16.2" ry="6.5" fill="url(#gf)" opacity="0.26" transform="rotate(20 16 23)"/>
<ellipse cx="84" cy="37.7" rx="17.9" ry="13" fill="url(#gf)" opacity="0.27"/>
<ellipse cx="108.5" cy="63.7" rx="9.8" ry="16.2" fill="url(#gf)" opacity="0.44"/>
<ellipse cx="12.7" cy="57" rx="9.8" ry="8.1" fill="url(#gf)" opacity="0.16"/>
</g></svg>
<svg x="202" y="700.5" width="110" height="75.5" viewBox="0 0 110 75.5" overflow="hidden">
<g filter="url(#cm)"><rect x="-2" y="-2" width="114" height="79.5" fill="#000"/>
<ellipse cx="36.5" cy="6.75" rx="23.4" ry="14.8" fill="url(#gh)" opacity="0.97"/>
<ellipse cx="36.5" cy="7.75" rx="48.8" ry="17.9" fill="url(#gf)" opacity="0.3"/>
<ellipse cx="98" cy="7.5" rx="25.2" ry="11.9" fill="url(#gf)" opacity="0.52"/>
<ellipse cx="107.7" cy="3.75" rx="8.1" ry="6.5" fill="url(#gf)" opacity="0.36"/>
<ellipse cx="89" cy="36" rx="14.6" ry="19.5" fill="url(#gf)" opacity="0.34"/>
<ellipse cx="76" cy="43" rx="13" ry="8.1" fill="url(#gf)" opacity="0.25"/>
<ellipse cx="80" cy="25.5" rx="9.8" ry="9.8" fill="url(#gf)" opacity="0.24"/>
<ellipse cx="18.5" cy="24" rx="19.5" ry="5.7" fill="url(#gf)" opacity="0.23" transform="rotate(40 18.5 24)"/>
<ellipse cx="36.5" cy="65.25" rx="20.3" ry="11.7" fill="url(#gf)" opacity="0.47"/>
<ellipse cx="105.5" cy="64.5" rx="10.6" ry="16.6" fill="url(#gf)" opacity="0.5" transform="rotate(20 105.5 64.5)"/>
<ellipse cx="94" cy="73" rx="13" ry="6.5" fill="url(#gf)" opacity="0.3"/>
<ellipse cx="41" cy="50" rx="7.3" ry="6.5" fill="url(#gf)" opacity="0.26"/>
</g></svg>
<svg x="336" y="700.5" width="110" height="75.5" viewBox="0 0 110 75.5" overflow="hidden">
<g filter="url(#cm)"><rect x="-2" y="-2" width="114" height="79.5" fill="#000"/>
<ellipse cx="29.6" cy="6.8" rx="24.2" ry="15.3" fill="url(#gh)" opacity="0.9"/>
<ellipse cx="29.6" cy="7.8" rx="45.5" ry="17.9" fill="url(#gf)" opacity="0.3"/>
<ellipse cx="93" cy="6.8" rx="25.2" ry="11.9" fill="url(#gf)" opacity="0.52"/>
<ellipse cx="101" cy="3.5" rx="9.8" ry="6.5" fill="url(#gf)" opacity="0.4"/>
<ellipse cx="86.4" cy="34.5" rx="16.2" ry="22.8" fill="url(#gf)" opacity="0.34"/>
<ellipse cx="32.8" cy="64.7" rx="24.4" ry="9.8" fill="url(#gf)" opacity="0.44"/>
<ellipse cx="104" cy="60.5" rx="11.4" ry="21.1" fill="url(#gf)" opacity="0.44" transform="rotate(20 104 60.5)"/>
<ellipse cx="11.7" cy="26" rx="17.9" ry="5.7" fill="url(#gf)" opacity="0.23" transform="rotate(30 11.7 26)"/>
</g></svg>
<svg x="470" y="700.5" width="110" height="75.5" viewBox="0 0 110 75.5" overflow="hidden">
<g filter="url(#cm)"><rect x="-2" y="-2" width="114" height="79.5" fill="#000"/>
<ellipse cx="22.4" cy="6.8" rx="24.7" ry="15.6" fill="url(#gh)" opacity="0.86"/>
<ellipse cx="22.4" cy="7.8" rx="42.2" ry="17.9" fill="url(#gf)" opacity="0.3"/>
<ellipse cx="92.3" cy="5.2" rx="30.3" ry="13.6" fill="url(#gp)" opacity="0.68"/>
<ellipse cx="84" cy="33" rx="16.2" ry="19.5" fill="url(#gf)" opacity="0.34"/>
<ellipse cx="103" cy="59" rx="11.4" ry="22.8" fill="url(#gf)" opacity="0.44"/>
<ellipse cx="55" cy="60.5" rx="29.2" ry="8.1" fill="url(#gf)" opacity="0.34"/>
<ellipse cx="32" cy="65" rx="16.2" ry="8.1" fill="url(#gf)" opacity="0.34"/>
<ellipse cx="37" cy="49" rx="8.1" ry="6.5" fill="url(#gf)" opacity="0.25"/>
</g></svg>
<svg x="202" y="793.5" width="110" height="75.5" viewBox="0 0 110 75.5" overflow="hidden">
<g filter="url(#cm)"><rect x="-2" y="-2" width="114" height="79.5" fill="#000"/>
<ellipse cx="19.2" cy="6" rx="25.3" ry="15.9" fill="url(#gh)" opacity="0.82"/>
<ellipse cx="21.2" cy="7" rx="43.9" ry="17.9" fill="url(#gf)" opacity="0.3"/>
<ellipse cx="90.5" cy="5.25" rx="25.6" ry="16.2" fill="url(#gh)" opacity="0.8"/>
<ellipse cx="85.5" cy="6.25" rx="43.9" ry="17.9" fill="url(#gf)" opacity="0.3"/>
<ellipse cx="80" cy="36" rx="13" ry="13" fill="url(#gf)" opacity="0.38"/>
<ellipse cx="87.5" cy="24" rx="11.4" ry="11.4" fill="url(#gf)" opacity="0.3"/>
<ellipse cx="99.5" cy="34.5" rx="11.4" ry="11.4" fill="url(#gf)" opacity="0.28"/>
<ellipse cx="39.5" cy="67.5" rx="19.5" ry="8.1" fill="url(#gf)" opacity="0.42" transform="rotate(-15 39.5 67.5)"/>
<ellipse cx="54" cy="61" rx="14.6" ry="8.1" fill="url(#gf)" opacity="0.33" transform="rotate(-30 54 61)"/>
<ellipse cx="104.7" cy="64.5" rx="9.1" ry="13.6" fill="url(#gf)" opacity="0.5"/>
<ellipse cx="101" cy="51" rx="8.1" ry="9.8" fill="url(#gf)" opacity="0.28"/>
<ellipse cx="12.5" cy="26" rx="9.8" ry="6.5" fill="url(#gf)" opacity="0.15"/>
<ellipse cx="35.7" cy="49.5" rx="6.5" ry="6.5" fill="url(#gf)" opacity="0.18"/>
</g></svg>
<svg x="336" y="793.5" width="110" height="75.5" viewBox="0 0 110 75.5" overflow="hidden">
<g filter="url(#cm)"><rect x="-2" y="-2" width="114" height="79.5" fill="#000"/>
<ellipse cx="11" cy="6.2" rx="26.3" ry="16.6" fill="url(#gh)" opacity="0.76"/>
<ellipse cx="14" cy="7.2" rx="39" ry="17.9" fill="url(#gf)" opacity="0.3"/>
<ellipse cx="83.2" cy="5.2" rx="24.7" ry="15.6" fill="url(#gh)" opacity="0.86" transform="rotate(-8 83.2 5.2)"/>
<ellipse cx="78.2" cy="6.2" rx="43.9" ry="17.9" fill="url(#gf)" opacity="0.3"/>
<ellipse cx="80" cy="34.5" rx="17.9" ry="21.1" fill="url(#gf)" opacity="0.36"/>
<ellipse cx="41" cy="64.7" rx="23.7" ry="9.5" fill="url(#gf)" opacity="0.46"/>
<ellipse cx="97.8" cy="57.2" rx="11.4" ry="16.2" fill="url(#gf)" opacity="0.34"/>
<ellipse cx="90" cy="45" rx="9.8" ry="9.8" fill="url(#gf)" opacity="0.25"/>
</g></svg>
<svg x="470" y="793.5" width="110" height="75.5" viewBox="0 0 110 75.5" overflow="hidden">
<g filter="url(#cm)"><rect x="-2" y="-2" width="114" height="79.5" fill="#000"/>
<ellipse cx="5.7" cy="5.25" rx="25.1" ry="13.3" fill="url(#gp)" opacity="0.7"/>
<ellipse cx="20" cy="8" rx="26" ry="13" fill="url(#gf)" opacity="0.3"/>
<ellipse cx="76.2" cy="6.3" rx="23.8" ry="15" fill="url(#gh)" opacity="0.93" transform="rotate(-10 76.2 6.3)"/>
<ellipse cx="71.2" cy="7.3" rx="43.9" ry="17.9" fill="url(#gf)" opacity="0.3"/>
<ellipse cx="81.5" cy="39" rx="24.4" ry="13" fill="url(#gf)" opacity="0.42"/>
<ellipse cx="77" cy="24" rx="11.4" ry="13" fill="url(#gf)" opacity="0.3"/>
<ellipse cx="50" cy="65.25" rx="18.5" ry="9.3" fill="url(#gf)" opacity="0.48"/>
<ellipse cx="79" cy="60.75" rx="6.5" ry="6.5" fill="url(#gf)" opacity="0.18"/>
<ellipse cx="74" cy="74" rx="8.1" ry="4.9" fill="url(#gf)" opacity="0.2"/>
</g></svg>
<svg x="202" y="887" width="110" height="75.5" viewBox="0 0 110 75.5" overflow="hidden">
<g filter="url(#cm)"><rect x="-2" y="-2" width="114" height="79.5" fill="#000"/>
<ellipse cx="71.7" cy="6.7" rx="23.1" ry="14.6" fill="url(#gh)" opacity="1" transform="rotate(-12 71.7 6.7)"/>
<ellipse cx="67.7" cy="7.7" rx="48.8" ry="17.9" fill="url(#gf)" opacity="0.3"/>
<ellipse cx="1" cy="4.4" rx="15.5" ry="12.4" fill="url(#gp)" opacity="0.66"/>
<ellipse cx="24" cy="11" rx="17.9" ry="13" fill="url(#gf)" opacity="0.42"/>
<ellipse cx="79" cy="38.5" rx="25.3" ry="14.2" fill="url(#gf)" opacity="0.46" transform="rotate(-15 79 38.5)"/>
<ellipse cx="71" cy="25.5" rx="11.4" ry="14.6" fill="url(#gf)" opacity="0.29"/>
<ellipse cx="50" cy="64.5" rx="13.6" ry="10.6" fill="url(#gf)" opacity="0.5"/>
<ellipse cx="76" cy="73.6" rx="13" ry="8.1" fill="url(#gf)" opacity="0.4"/>
<ellipse cx="62" cy="48" rx="11.4" ry="9.8" fill="url(#gf)" opacity="0.2"/>
</g></svg>

<!-- empty boxes -->
<g fill="none" stroke-width="1">
<path d="M141.5 451.7V375.3H251.2" stroke="#b0b0b0"/>
<path d="M556.2 375H663.7" stroke="#c6c6c6"/><path d="M556.2 449.7V375" stroke="#d8d8d8"/>
<path d="M336 887.4H445" stroke="#b0b0b0"/>
<path d="M336.2 887.4V962" stroke="#dedede"/>
</g>
<g stroke="#e6e6e6">
<path d="M158.5 384.3H251" stroke-width="0.8"/><path d="M158.5 388.2H251" stroke-width="1.6"/>
<path d="M352 893H445" stroke-width="0.6" stroke="#f0f0f0"/>
</g>
<rect x="572.7" y="378.2" width="91" height="5.2" fill="#e6e6e6"/><path d="M572.7 383.4H663.7" stroke="#d0d0d0" stroke-width="0.6"/>
<g fill="#b8b8b8"><rect x="141.5" y="449.8" width="9" height="1"/><rect x="242" y="377.2" width="9" height="1"/>
<rect x="556.5" y="448.6" width="8" height="1"/><rect x="655" y="376.6" width="8.5" height="1"/><rect x="566.2" y="379.5" width="1" height="3.5"/>
<rect x="336.5" y="961" width="8.5" height="1"/><rect x="437" y="889.2" width="8" height="1"/><rect x="152.5" y="380" width="1" height="9"/><rect x="346.2" y="890" width="1" height="6"/></g>
<!-- stray lines -->
<path d="M532 202.5H553" stroke="#e2e2e2" stroke-width="1"/>
<path d="M664 199.7H689" stroke="#b0b0b0" stroke-width="1.6"/>
<path d="M2.8 192V358" stroke="#e0e0e0" stroke-width="1"/>
<!-- row-3 offset strips -->
<g fill="#1c44ac">
<rect x="4" y="189.8" width="110.6" height="2.2"/><rect x="139" y="189.8" width="110.3" height="2.2"/><rect x="273.5" y="189.8" width="110.3" height="2.2"/>
<rect x="421.5" y="189.3" width="108.7" height="3"/><rect x="553.5" y="189.3" width="108.7" height="3"/><rect x="686.5" y="189.3" width="108.7" height="3"/>
</g>
<g fill="#fff">
<rect x="114.6" y="189" width="3.2" height="3"/><rect x="249.3" y="189" width="3.2" height="3"/><rect x="383.8" y="189" width="3" height="3"/>
<rect x="530.2" y="189" width="2.4" height="3.4"/><rect x="662.2" y="189" width="2.4" height="3.4"/><rect x="795.2" y="189" width="2.4" height="3.4"/>
</g>
<!-- colorbars -->
<rect x="370.4" y="380" width="10.6" height="75.4" fill="url(#cb)"/>
<rect x="785.4" y="372" width="10.8" height="76" fill="url(#cb)"/>
<rect x="565" y="886.5" width="10.2" height="72" fill="url(#cb)"/>

</svg>
<div class="t lab" style="left:44.5px;top:82.08px"><i>Φ</i><sub>2</sub>=0<span class="dg">°</span></div>
<div class="t lab" style="left:178.5px;top:82.08px"><i>Φ</i><sub>2</sub>=5<span class="dg">°</span></div>
<div class="t lab" style="left:311px;top:82.08px"><i>Φ</i><sub>2</sub>=10<span class="dg">°</span></div>
<div class="t lab" style="left:44.5px;top:175.08px"><i>Φ</i><sub>2</sub>=15<span class="dg">°</span></div>
<div class="t lab" style="left:178.5px;top:175.08px"><i>Φ</i><sub>2</sub>=20<span class="dg">°</span></div>
<div class="t lab" style="left:311px;top:175.08px"><i>Φ</i><sub>2</sub>=25<span class="dg">°</span></div>
<div class="t lab" style="left:42.5px;top:267.57px"><i>Φ</i><sub>2</sub>=30<span class="dg">°</span></div>
<div class="t lab" style="left:178.5px;top:267.57px"><i>Φ</i><sub>2</sub>=35<span class="dg">°</span></div>
<div class="t lab" style="left:311px;top:267.57px"><i>Φ</i><sub>2</sub>=40<span class="dg">°</span></div>
<div class="t lab" style="left:44px;top:360.07px"><i>Φ</i><sub>2</sub>=45<span class="dg">°</span></div>
<div class="t lab" style="left:178.5px;top:359.07px"><i>Φ</i><sub>2</sub>=50<span class="dg">°</span></div>
<div class="t lab" style="left:311px;top:361.07px"><i>Φ</i><sub>2</sub>=55<span class="dg">°</span></div>
<div class="t lab" style="left:40.6px;top:455.32px"><i>Φ</i><sub>2</sub>=60<span class="dg">°</span></div>
<div class="t lab" style="left:461px;top:82.08px"><i>Φ</i><sub>2</sub>=0<span class="dg">°</span></div>
<div class="t lab" style="left:592.5px;top:82.08px"><i>Φ</i><sub>2</sub>=5<span class="dg">°</span></div>
<div class="t lab" style="left:724px;top:82.08px"><i>Φ</i><sub>2</sub>=10<span class="dg">°</span></div>
<div class="t lab" style="left:461px;top:175.08px"><i>Φ</i><sub>2</sub>=15<span class="dg">°</span></div>
<div class="t lab" style="left:592.5px;top:175.08px"><i>Φ</i><sub>2</sub>=20<span class="dg">°</span></div>
<div class="t lab" style="left:724px;top:175.08px"><i>Φ</i><sub>2</sub>=25<span class="dg">°</span></div>
<div class="t lab" style="left:459px;top:266.57px"><i>Φ</i><sub>2</sub>=30<span class="dg">°</span></div>
<div class="t lab" style="left:592.5px;top:266.57px"><i>Φ</i><sub>2</sub>=35<span class="dg">°</span></div>
<div class="t lab" style="left:725px;top:266.57px"><i>Φ</i><sub>2</sub>=40<span class="dg">°</span></div>
<div class="t lab" style="left:459px;top:359.07px"><i>Φ</i><sub>2</sub>=45<span class="dg">°</span></div>
<div class="t lab" style="left:592.5px;top:359.07px"><i>Φ</i><sub>2</sub>=50<span class="dg">°</span></div>
<div class="t lab" style="left:727.5px;top:361.57px"><i>Φ</i><sub>2</sub>=55<span class="dg">°</span></div>
<div class="t lab" style="left:455.5px;top:456.38px"><i>Φ</i><sub>2</sub>=60<span class="dg">°</span></div>
<div class="t lab" style="left:260.5px;top:592.07px;width:80px;margin-left:-40px;text-align:center"><i>Φ</i><sub>2</sub>=0<span class="dg">°</span></div>
<div class="t lab" style="left:394.5px;top:592.07px;width:80px;margin-left:-40px;text-align:center"><i>Φ</i><sub>2</sub>=5<span class="dg">°</span></div>
<div class="t lab" style="left:528px;top:592.07px;width:80px;margin-left:-40px;text-align:center"><i>Φ</i><sub>2</sub>=10<span class="dg">°</span></div>
<div class="t lab" style="left:260.5px;top:685.07px;width:80px;margin-left:-40px;text-align:center"><i>Φ</i><sub>2</sub>=15<span class="dg">°</span></div>
<div class="t lab" style="left:394.5px;top:685.07px;width:80px;margin-left:-40px;text-align:center"><i>Φ</i><sub>2</sub>=20<span class="dg">°</span></div>
<div class="t lab" style="left:528px;top:685.07px;width:80px;margin-left:-40px;text-align:center"><i>Φ</i><sub>2</sub>=25<span class="dg">°</span></div>
<div class="t lab" style="left:260.5px;top:778.07px;width:80px;margin-left:-40px;text-align:center"><i>Φ</i><sub>2</sub>=30<span class="dg">°</span></div>
<div class="t lab" style="left:394.5px;top:778.07px;width:80px;margin-left:-40px;text-align:center"><i>Φ</i><sub>2</sub>=35<span class="dg">°</span></div>
<div class="t lab" style="left:528px;top:778.07px;width:80px;margin-left:-40px;text-align:center"><i>Φ</i><sub>2</sub>=40<span class="dg">°</span></div>
<div class="t lab" style="left:260.5px;top:871.07px;width:80px;margin-left:-40px;text-align:center"><i>Φ</i><sub>2</sub>=45<span class="dg">°</span></div>
<div class="t lab" style="left:394.5px;top:871.07px;width:80px;margin-left:-40px;text-align:center"><i>Φ</i><sub>2</sub>=50<span class="dg">°</span></div>
<div class="t lab" style="left:528px;top:871.07px;width:80px;margin-left:-40px;text-align:center"><i>Φ</i><sub>2</sub>=55<span class="dg">°</span></div>
<div class="t lab" style="left:257.75px;top:966.57px;width:80px;margin-left:-40px;text-align:center"><i>Φ</i><sub>2</sub>=60<span class="dg">°</span></div>
<div class="t mx" style="left:304px;top:436.575px">max=12.2</div>
<div class="t mx" style="left:711.9px;top:437.575px">max=6.72</div>
<div class="t mx" style="left:498.5px;top:949.575px">max=7.21</div>
<div class="t cap" style="left:167.25px;top:472.575px">(a)</div><div class="t capc" style="left:188.2px;top:471.2px">一道次</div>
<div class="t cap" style="left:590px;top:472.075px">(b)</div><div class="t capc" style="left:611.3px;top:470.7px">二道次</div>
<div class="t cap" style="left:373.5px;top:974.075px">(c)</div><div class="t capc" style="left:394.6px;top:972.7px">三道次</div>
<div class="t cn" style="left:191px;top:1003.5px;width:430px;height:24px"><span style="position:absolute;left:-2px;top:0">图</span><span style="position:absolute;left:102px;top:0">合</span><span style="position:absolute;left:126.8px;top:0">金</span><span style="position:absolute;left:151.5px;top:0">在</span><span style="position:absolute;left:176px;top:0">一</span><span style="position:absolute;left:200.5px;top:0">个</span><span style="position:absolute;left:225px;top:0">循</span><span style="position:absolute;left:249.5px;top:0">环</span><span style="position:absolute;left:274px;top:0">变</span><span style="position:absolute;left:298.5px;top:0">形</span><span style="position:absolute;left:323px;top:0">中</span><span style="position:absolute;left:395.3px;top:0">图</span></div>
<div class="t en2" style="left:217.3px;top:1007.71px">8</div>
<div class="t en2" style="left:252.9px;top:1007.71px;letter-spacing:0.6px">TC4</div>
<div class="t en2" style="left:539.5px;top:1007.71px;letter-spacing:0.6px">ODF</div>
<div class="t en" style="left:107px;top:1045.21px">Fig.8</div>
<div class="t en" style="left:179.5px;top:1045.21px">ODF</div>
<div class="t en" style="left:230px;top:1045.21px">images</div>
<div class="t en" style="left:301px;top:1045.21px">of</div>
<div class="t en" style="left:322.8px;top:1045.21px">TC4</div>
<div class="t en" style="left:370px;top:1045.21px">alloy</div>
<div class="t en" style="left:421.2px;top:1045.21px">during</div>
<div class="t en" style="left:489.6px;top:1045.21px">one</div>
<div class="t en" style="left:529px;top:1045.21px">cycle</div>
<div class="t en" style="left:584px;top:1045.21px">deformation</div>
</body></html>
